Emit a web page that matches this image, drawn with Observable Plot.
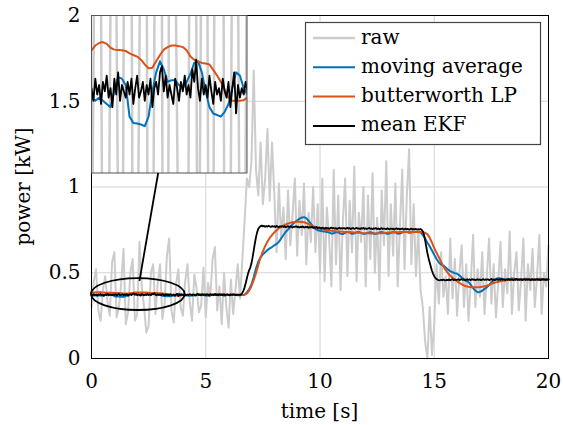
<!DOCTYPE html>
<html>
<head>
<meta charset="utf-8">
<script src="https://cdn.jsdelivr.net/npm/d3@7"></script>
<script src="https://cdn.jsdelivr.net/npm/@observablehq/plot@0.6"></script>
<style>
  html, body { margin: 0; padding: 0; background: white; }
  #chart { width: 563px; height: 425px; }
</style>
</head>
<body>
<div id="chart"></div>
<script>
// ---------- data ----------
const xTicks = [0, 5, 10, 15, 20];
const yTicks = [0, 0.5, 1, 1.5, 2];
const legendLabels = ["raw", "moving average", "butterworth LP", "mean EKF"];

const dtSlow = 0.1;   // raw, moving average, butterworth sampling [s]
const dtEkf = 0.05;   // EKF sampling [s]

const raw = [
  0.30,0.45,0.52,0.28,0.22,0.40,0.48,0.33,0.25,0.56,
  0.62,0.24,0.30,0.44,0.64,0.20,0.27,0.50,0.58,0.22,
  0.26,0.68,0.42,0.30,0.15,0.19,0.50,0.55,0.26,0.44,
  0.55,0.23,0.32,0.60,0.70,0.28,0.21,0.43,0.52,0.30,
  0.25,0.45,0.55,0.33,0.22,0.49,0.41,0.27,0.31,0.53,
  0.24,0.44,0.36,0.58,0.65,0.28,0.42,0.20,0.50,0.30,
  0.18,0.46,0.26,0.40,0.55,0.35,0.57,0.80,1.05,1.00,
  1.15,1.68,1.10,0.95,1.26,0.90,1.05,1.34,0.92,1.26,
  0.96,0.62,1.02,0.70,0.88,0.58,0.98,0.66,0.84,1.05,
  0.60,0.92,0.72,1.02,0.55,0.85,0.68,1.00,0.62,0.90,
  0.50,1.05,0.45,0.88,0.70,0.42,1.10,0.55,0.95,0.40,
  0.80,1.05,0.48,0.92,0.62,1.12,0.45,0.85,0.68,1.00,
  0.42,0.95,0.58,1.08,0.50,0.82,0.40,0.98,0.66,1.15,
  0.48,0.90,0.60,1.02,0.42,0.78,1.10,0.52,0.95,1.22,
  0.55,0.90,0.48,0.75,0.40,0.30,0.10,0.00,0.30,0.02,
  0.20,0.55,0.32,0.62,0.36,0.48,0.26,0.70,0.35,0.58,
  0.25,0.50,0.66,0.30,0.55,0.22,0.45,0.72,0.30,0.52,
  0.36,0.62,0.26,0.48,0.70,0.32,0.55,0.24,0.44,0.68,
  0.30,0.52,0.38,0.74,0.26,0.50,0.62,0.28,0.46,0.70,
  0.22,0.55,0.40,0.64,0.30,0.48,0.72,0.26,0.50,0.42,
  0.66
];

const movingAverage = [
  0.369,0.368,0.369,0.368,0.367,0.366,0.371,0.3755,0.375,0.373,
  0.363,0.361,0.3608,0.3605,0.360,0.363,0.371,0.377,0.3805,0.378,
  0.374,0.3745,0.3745,0.373,0.372,0.374,0.3765,0.380,0.3805,0.377,
  0.371,0.366,0.364,0.3635,0.363,0.3645,0.367,0.372,0.377,0.376,
  0.372,0.370,0.368,0.366,0.367,0.369,0.372,0.374,0.373,0.370,
  0.368,0.367,0.369,0.372,0.375,0.376,0.373,0.370,0.368,0.369,
  0.371,0.373,0.372,0.370,0.369,0.369,0.370,0.372,0.385,0.405,
  0.430,0.475,0.525,0.565,0.590,0.607,0.620,0.632,0.642,0.650,
  0.660,0.668,0.680,0.700,0.720,0.738,0.752,0.768,0.782,0.795,
  0.805,0.815,0.822,0.824,0.818,0.802,0.786,0.770,0.756,0.748,
  0.745,0.742,0.740,0.737,0.735,0.728,0.730,0.737,0.735,0.728,
  0.726,0.733,0.738,0.734,0.727,0.729,0.736,0.738,0.732,0.727,
  0.728,0.734,0.737,0.733,0.726,0.729,0.735,0.738,0.734,0.728,
  0.727,0.733,0.737,0.735,0.728,0.729,0.735,0.739,0.737,0.733,
  0.735,0.738,0.738,0.737,0.735,0.720,0.700,0.675,0.655,0.630,
  0.605,0.580,0.560,0.548,0.542,0.530,0.518,0.510,0.503,0.498,
  0.494,0.485,0.472,0.462,0.452,0.445,0.430,0.410,0.395,0.387,
  0.388,0.395,0.406,0.415,0.428,0.443,0.456,0.465,0.468,0.466,
  0.462,0.460,0.461,0.464,0.466,0.465,0.462,0.460,0.461,0.463,
  0.465,0.464,0.461,0.459,0.460,0.463,0.465,0.463,0.460,0.461,
  0.462
];

const butterworth = [
  0.384,0.3855,0.3863,0.3866,0.386,0.3848,0.3842,0.3841,0.384,0.3838,
  0.383,0.3825,0.382,0.381,0.3795,0.3783,0.3785,0.3805,0.3825,0.3842,
  0.385,0.3855,0.3855,0.3853,0.385,0.384,0.382,0.381,0.3805,0.380,
  0.3798,0.3795,0.3778,0.376,0.374,0.3715,0.369,0.368,0.368,0.368,
  0.3682,0.369,0.370,0.371,0.372,0.372,0.373,0.373,0.374,0.374,
  0.374,0.373,0.373,0.372,0.372,0.373,0.374,0.374,0.373,0.372,
  0.372,0.372,0.373,0.373,0.372,0.372,0.371,0.372,0.378,0.395,
  0.423,0.457,0.497,0.545,0.590,0.625,0.655,0.682,0.703,0.720,
  0.735,0.748,0.760,0.768,0.775,0.782,0.787,0.791,0.794,0.796,
  0.797,0.797,0.796,0.794,0.790,0.784,0.777,0.770,0.764,0.759,
  0.756,0.753,0.751,0.749,0.747,0.745,0.744,0.742,0.741,0.740,
  0.739,0.738,0.737,0.737,0.736,0.735,0.734,0.733,0.732,0.731,
  0.730,0.730,0.729,0.729,0.729,0.730,0.730,0.731,0.732,0.733,
  0.734,0.734,0.735,0.736,0.736,0.737,0.737,0.737,0.738,0.738,
  0.738,0.738,0.738,0.738,0.738,0.737,0.733,0.725,0.705,0.675,
  0.643,0.617,0.590,0.563,0.537,0.515,0.497,0.482,0.471,0.461,
  0.451,0.441,0.433,0.426,0.421,0.418,0.416,0.415,0.415,0.416,
  0.417,0.419,0.421,0.425,0.430,0.435,0.440,0.444,0.448,0.451,
  0.453,0.455,0.457,0.458,0.459,0.460,0.460,0.461,0.461,0.461,
  0.461,0.461,0.461,0.461,0.461,0.461,0.461,0.461,0.461,0.461,
  0.461
];

const meanEkf = [
  0.372,0.368,0.375,0.370,0.373,0.367,0.374,0.371,0.376,0.369,0.372,0.366,0.375,0.370,0.377,0.368,0.373,0.371,0.369,0.374,
  0.370,0.375,0.367,0.372,0.376,0.369,0.371,0.374,0.368,0.373,0.370,0.375,0.366,0.372,0.374,0.370,0.377,0.379,0.371,0.376,
  0.369,0.373,0.370,0.367,0.375,0.372,0.368,0.374,0.371,0.376,0.370,0.373,0.369,0.378,0.374,0.381,0.372,0.368,0.375,0.370,
  0.373,0.369,0.376,0.371,0.367,0.374,0.370,0.372,0.368,0.375,0.371,0.369,0.374,0.366,0.372,0.377,0.364,0.373,0.369,0.372,
  0.370,0.374,0.371,0.368,0.373,0.370,0.375,0.372,0.369,0.374,0.371,0.367,0.373,0.376,0.370,0.372,0.368,0.374,0.371,0.373,
  0.369,0.374,0.372,0.367,0.375,0.371,0.373,0.369,0.376,0.370,0.372,0.368,0.374,0.371,0.373,0.370,0.375,0.369,0.372,0.374,
  0.371,0.368,0.373,0.370,0.374,0.372,0.369,0.373,0.371,0.372,0.370,0.374,0.382,0.396,0.415,0.440,0.468,0.495,0.515,0.530,
  0.555,0.590,0.630,0.672,0.708,0.737,0.756,0.766,0.772,0.775,0.770,0.773,0.768,0.772,0.769,0.774,0.770,0.767,0.772,0.769,
  0.771,0.767,0.773,0.769,0.766,0.771,0.768,0.772,0.767,0.770,0.765,0.769,0.772,0.766,0.770,0.768,0.764,0.769,0.767,0.771,
  0.766,0.769,0.764,0.768,0.766,0.770,0.763,0.767,0.765,0.769,0.762,0.766,0.764,0.768,0.761,0.765,0.763,0.767,0.760,0.764,
  0.762,0.758,0.763,0.760,0.757,0.762,0.759,0.761,0.756,0.760,0.763,0.758,0.761,0.757,0.760,0.755,0.759,0.762,0.757,0.760,
  0.758,0.761,0.756,0.759,0.762,0.757,0.760,0.755,0.759,0.761,0.756,0.758,0.762,0.757,0.759,0.755,0.760,0.757,0.761,0.756,
  0.759,0.755,0.758,0.761,0.756,0.758,0.754,0.759,0.757,0.760,0.755,0.758,0.753,0.757,0.760,0.755,0.758,0.756,0.754,0.759,
  0.756,0.753,0.758,0.755,0.757,0.752,0.756,0.759,0.754,0.757,0.753,0.756,0.758,0.752,0.755,0.757,0.753,0.756,0.751,0.755,
  0.757,0.752,0.755,0.753,0.756,0.751,0.754,0.752,0.755,0.750,0.742,0.722,0.690,0.652,0.615,0.585,0.560,0.535,0.512,0.494,
  0.480,0.470,0.463,0.459,0.457,0.456,0.459,0.456,0.460,0.457,0.455,0.459,0.457,0.461,0.456,0.459,0.462,0.457,0.460,0.458,
  0.459,0.462,0.457,0.460,0.463,0.458,0.461,0.456,0.460,0.462,0.458,0.461,0.457,0.463,0.459,0.461,0.457,0.460,0.462,0.458,
  0.461,0.457,0.460,0.463,0.458,0.461,0.459,0.462,0.457,0.460,0.464,0.459,0.461,0.457,0.460,0.462,0.458,0.461,0.459,0.463,
  0.459,0.462,0.457,0.461,0.459,0.463,0.458,0.460,0.462,0.457,0.461,0.459,0.464,0.458,0.461,0.459,0.462,0.457,0.460,0.463,
  0.458,0.461,0.459,0.462,0.457,0.460,0.463,0.458,0.461,0.459,0.462,0.458,0.461,0.457,0.460,0.463,0.459,0.461,0.458,0.462,
  0.460
];

// zoom window shown in the inset
const zoomX = [0, 4.1];
const zoomY = [0.345, 0.395];

// ---------- build ----------
const rows = (vals, dt) => vals.map((v, i) => ({t: i * dt, v}));
const rawRows = rows(raw, dtSlow);
const maRows = rows(movingAverage, dtSlow);
const bwRows = rows(butterworth, dtSlow);
const ekfRows = rows(meanEkf, dtEkf);

const colors = {raw: "#cccccc", ma: "#0072bd", bw: "#d95319", ekf: "#000000"};
const font = "'DejaVu Serif', serif";

const seriesMarks = (opts = {}, widths = [2, 2, 2, 1.8]) => [
  Plot.line(rawRows, {x: "t", y: "v", stroke: colors.raw, strokeWidth: widths[0], ...opts}),
  Plot.line(maRows, {x: "t", y: "v", stroke: colors.ma, strokeWidth: widths[1], ...opts}),
  Plot.line(bwRows, {x: "t", y: "v", stroke: colors.bw, strokeWidth: widths[2], ...opts}),
  Plot.line(ekfRows, {x: "t", y: "v", stroke: colors.ekf, strokeWidth: widths[3], ...opts})
];

const chart = Plot.plot({
  width: 563,
  height: 425,
  marginLeft: 91,
  marginRight: 15,
  marginTop: 15,
  marginBottom: 67,
  style: {fontFamily: font, fontSize: "20px", background: "white", color: "black"},
  x: {domain: [0, 20]},
  y: {domain: [0, 2]},
  marks: [
    Plot.gridX(xTicks, {stroke: "#d4d4d4", strokeOpacity: 1, strokeWidth: 1}),
    Plot.gridY(yTicks, {stroke: "#d4d4d4", strokeOpacity: 1, strokeWidth: 1}),
    ...seriesMarks(),
    Plot.frame({stroke: "black", strokeWidth: 1}),
    Plot.axisX(xTicks, {tickSize: 0, tickPadding: 15, tickFormat: d => String(d), fontSize: 20, label: null}),
    Plot.axisY(yTicks, {tickSize: 0, tickPadding: 11, tickFormat: d => String(d), fontSize: 20, label: null})
  ]
});

const svg = d3.select(chart);
const xs = chart.scale("x"), ys = chart.scale("y");
const X = v => xs.apply(v), Y = v => ys.apply(v);

// axis titles
svg.append("text")
  .attr("x", (X(0) + X(20)) / 2).attr("y", 418)
  .attr("text-anchor", "middle")
  .style("font-family", font).style("font-size", "20px").attr("fill", "black")
  .text("time [s]");
svg.append("text")
  .attr("transform", `translate(30,${(Y(0) + Y(2)) / 2}) rotate(-90)`)
  .attr("text-anchor", "middle")
  .style("font-family", font).style("font-size", "20px").attr("fill", "black")
  .text("power [kW]");

// ellipse marking the zoomed region
const ex0 = zoomX[0], ex1 = zoomX[1];
const ecx = (X(ex0) + X(ex1)) / 2;
const ecy = Y(0.373);
svg.append("ellipse")
  .attr("cx", ecx).attr("cy", ecy)
  .attr("rx", (X(ex1) - X(ex0)) / 2).attr("ry", Y(0.28) - Y(0.373))
  .attr("fill", "none").attr("stroke", "black").attr("stroke-width", 1.8);

// inset
const insetX0 = X(0), insetY0 = Y(2);
const insetW = 156, insetH = 158;
svg.append("rect")
  .attr("x", insetX0).attr("y", insetY0).attr("width", insetW).attr("height", insetH)
  .attr("fill", "white");
const inset = Plot.plot({
  width: insetW,
  height: insetH,
  margin: 0,
  x: {domain: zoomX, axis: null},
  y: {domain: zoomY, axis: null},
  marks: seriesMarks({clip: true}, [2.5, 2, 2, 1.8])
});
const g = svg.append("g").attr("transform", `translate(${insetX0},${insetY0})`);
while (inset.firstChild) g.node().appendChild(inset.firstChild);
svg.append("rect")
  .attr("x", insetX0 + 0.5).attr("y", insetY0 + 0.5).attr("width", insetW - 0.5).attr("height", insetH - 0.5)
  .attr("fill", "none").attr("stroke", "#555").attr("stroke-width", 1);

// connector from ellipse to inset
svg.append("line")
  .attr("x1", X(2.12)).attr("y1", Y(0.45))
  .attr("x2", X(2.94)).attr("y2", insetY0 + insetH)
  .attr("stroke", "black").attr("stroke-width", 1.8);

// legend
const legend = svg.append("g");
legend.append("rect")
  .attr("x", 305.5).attr("y", 22.5).attr("width", 235).attr("height", 122)
  .attr("fill", "white").attr("stroke", "#444").attr("stroke-width", 1.2);
const legendStyles = [
  {c: colors.raw, w: 2.5}, {c: colors.ma, w: 2}, {c: colors.bw, w: 2}, {c: colors.ekf, w: 2}
];
legendLabels.forEach((lab, i) => {
  const base = 43.5 + i * 29.3;
  legend.append("line")
    .attr("x1", 313).attr("x2", 355).attr("y1", base - 5.5).attr("y2", base - 5.5)
    .attr("stroke", legendStyles[i].c).attr("stroke-width", legendStyles[i].w);
  legend.append("text")
    .attr("x", 361).attr("y", base)
    .attr("text-anchor", "start")
    .style("font-family", font).style("font-size", "20px").attr("fill", "black")
    .text(lab);
});

document.getElementById("chart").appendChild(chart);
</script>
</body>
</html>
